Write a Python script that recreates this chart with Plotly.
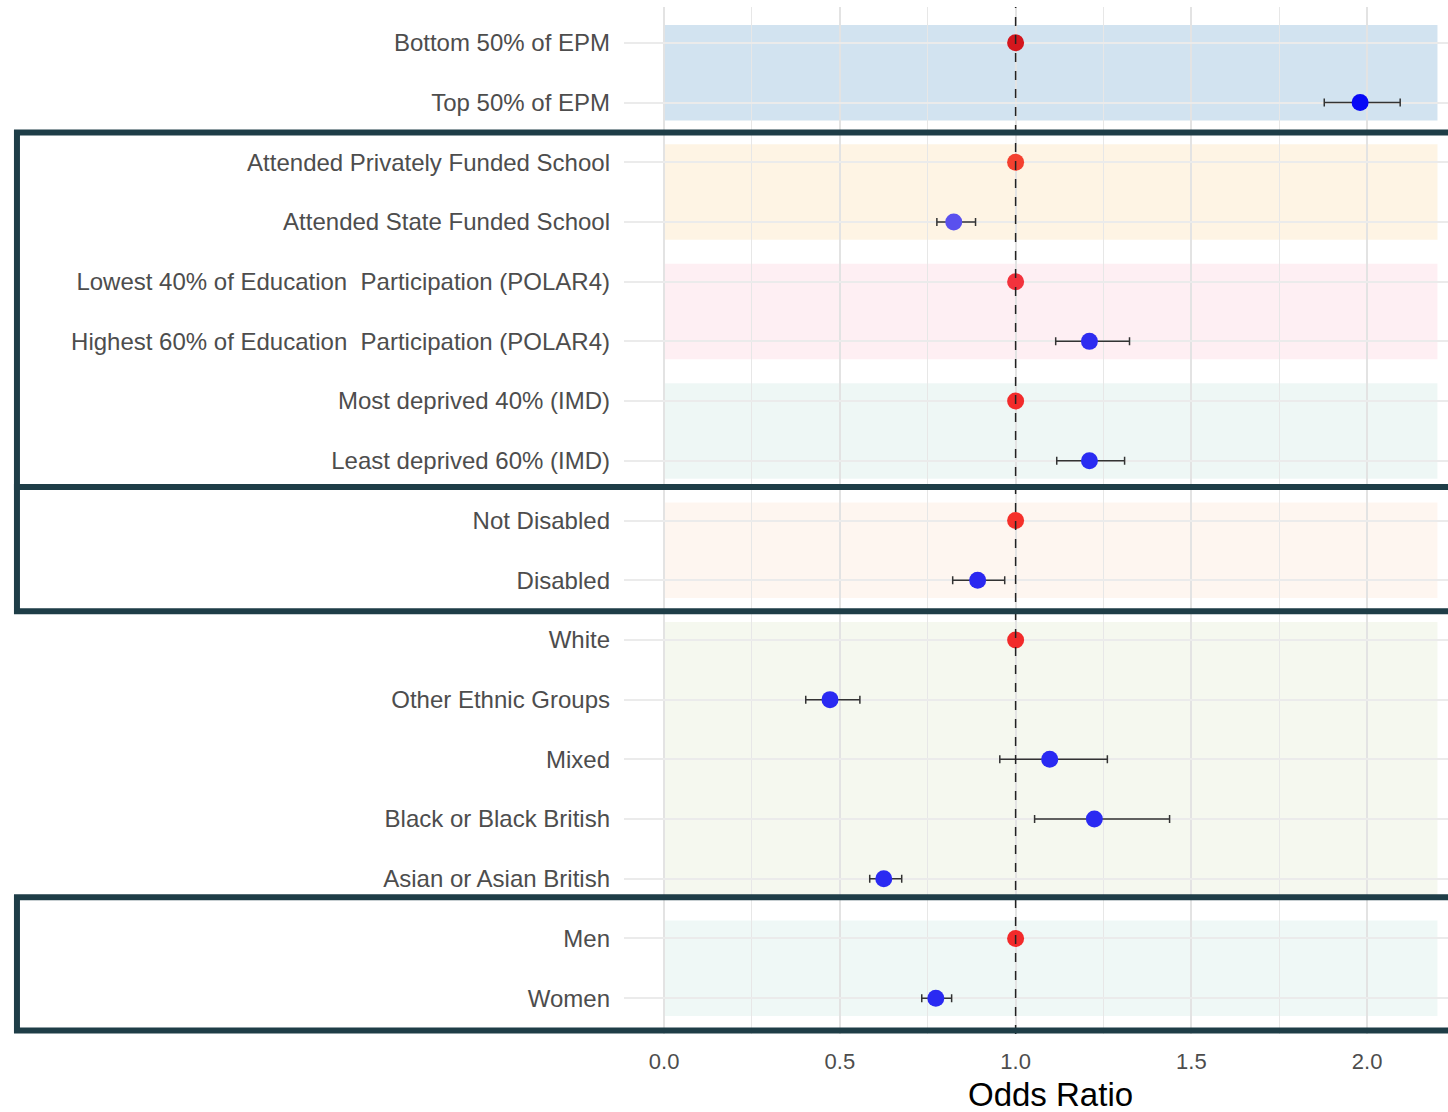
import plotly.graph_objects as go

# Rows, top to bottom
labels = [
    "Bottom 50% of EPM",
    "Top 50% of EPM",
    "Attended Privately Funded School",
    "Attended State Funded School",
    "Lowest 40% of Education  Participation (POLAR4)",
    "Highest 60% of Education  Participation (POLAR4)",
    "Most deprived 40% (IMD)",
    "Least deprived 60% (IMD)",
    "Not Disabled",
    "Disabled",
    "White",
    "Other Ethnic Groups",
    "Mixed",
    "Black or Black British",
    "Asian or Asian British",
    "Men",
    "Women",
]

# Reference categories (odds ratio fixed at 1)
ref_rows = [0, 2, 4, 6, 8, 10, 15]

# Comparison categories with odds ratio and 95% CI
est_rows = [1, 3, 5, 7, 9, 11, 12, 13, 14, 16]
est_or = [1.98, 0.824, 1.21, 1.21, 0.892, 0.472, 1.097, 1.224, 0.625, 0.773]
est_lo = [1.878, 0.776, 1.114, 1.117, 0.821, 0.403, 0.955, 1.054, 0.585, 0.733]
est_hi = [2.094, 0.886, 1.324, 1.310, 0.969, 0.557, 1.261, 1.438, 0.676, 0.818]

# Shaded bands: (first row, last row, fill)
bands = [
    (0, 1, "rgba(165,199,225,0.5)"),
    (2, 3, "rgba(253,230,195,0.45)"),
    (4, 5, "rgba(251,212,221,0.36)"),
    (6, 7, "rgba(210,234,230,0.38)"),
    (8, 9, "rgba(253,225,206,0.3)"),
    (10, 14, "rgba(226,236,208,0.35)"),
    (15, 16, "rgba(210,234,230,0.35)"),
]

# Outlined groups: (top edge, bottom edge) in row units
outlines = [(1.5, 7.44), (7.44, 9.52), (14.31, 16.54)]

ref_colors = ["#d4161d", "#f4402f", "#f2323c", "#f22b2b", "#f5302a", "#f22a2a", "#f22a2a"]
est_colors = ["#0808f6", "#5a50ee", "#2f2cf0", "#2a2cf2", "#2b28f0",
              "#2a2af2", "#2a2af2", "#2a2af2", "#2a2af2", "#2a2af2"]

fig = go.Figure()

fig.add_trace(go.Scatter(
    x=est_or, y=est_rows, mode="markers",
    marker=dict(size=17, color=est_colors, line=dict(width=0)),
    error_x=dict(type="data", symmetric=False,
                 array=[h - o for h, o in zip(est_hi, est_or)],
                 arrayminus=[o - l for o, l in zip(est_or, est_lo)],
                 color="#333333", thickness=1.5, width=4),
    showlegend=False, hoverinfo="skip",
))

fig.add_trace(go.Scatter(
    x=[1.0] * len(ref_rows), y=ref_rows, mode="markers",
    marker=dict(size=17, color=ref_colors, line=dict(width=0)),
    showlegend=False, hoverinfo="skip",
))

shapes = []
for r0, r1, col in bands:
    shapes.append(dict(type="rect", xref="x", yref="y", x0=0, x1=2.2,
                       y0=r0 - 0.3, y1=r1 + 0.3, fillcolor=col,
                       line=dict(width=0), layer="below"))

shapes.append(dict(type="line", xref="x", yref="paper", x0=1, x1=1, y0=0, y1=1,
                   line=dict(color="#222222", width=1.5, dash="dash"), layer="above"))

for top, bot in outlines:
    shapes.append(dict(type="rect", xref="paper", yref="y", x0=-0.7367, x1=1.2,
                       y0=top, y1=bot, fillcolor="rgba(0,0,0,0)",
                       line=dict(color="#1e3d47", width=6), layer="above"))

fig.update_layout(
    width=1448, height=1112,
    margin=dict(l=624, r=0, t=7, b=78),
    paper_bgcolor="white", plot_bgcolor="white",
    font=dict(family="Liberation Sans, Arial, sans-serif", color="#4d4d4d"),
    shapes=shapes,
    xaxis=dict(
        range=[-0.114, 2.23], tickmode="array",
        tickvals=[0, 0.5, 1.0, 1.5, 2.0],
        ticktext=["0.0", "0.5", "1.0", "1.5", "2.0"],
        showgrid=True, gridcolor="#e3e3e3", gridwidth=1.5,
        minor=dict(tickvals=[0.25, 0.75, 1.25, 1.75, 2.25], showgrid=True,
                   gridcolor="#e7e7e7", gridwidth=1.2),
        zeroline=False, showline=False, ticks="",
        tickfont=dict(size=22, color="#4d4d4d"),
        ticklabelstandoff=12,
    ),
    yaxis=dict(
        range=[16.6, -0.6], tickmode="array",
        tickvals=list(range(len(labels))), ticktext=labels,
        showgrid=True, gridcolor="#ebebeb", gridwidth=1.5,
        zeroline=False, showline=False, ticks="",
        tickfont=dict(size=24, color="#4d4d4d"),
        ticklabelstandoff=13,
    ),
    annotations=[dict(text="Odds Ratio", xref="paper", yref="paper",
                      x=0.517, y=-0.0585, xanchor="center", yanchor="middle",
                      showarrow=False, font=dict(size=33, color="#000000"))],
)

fig.write_html("out.html")
